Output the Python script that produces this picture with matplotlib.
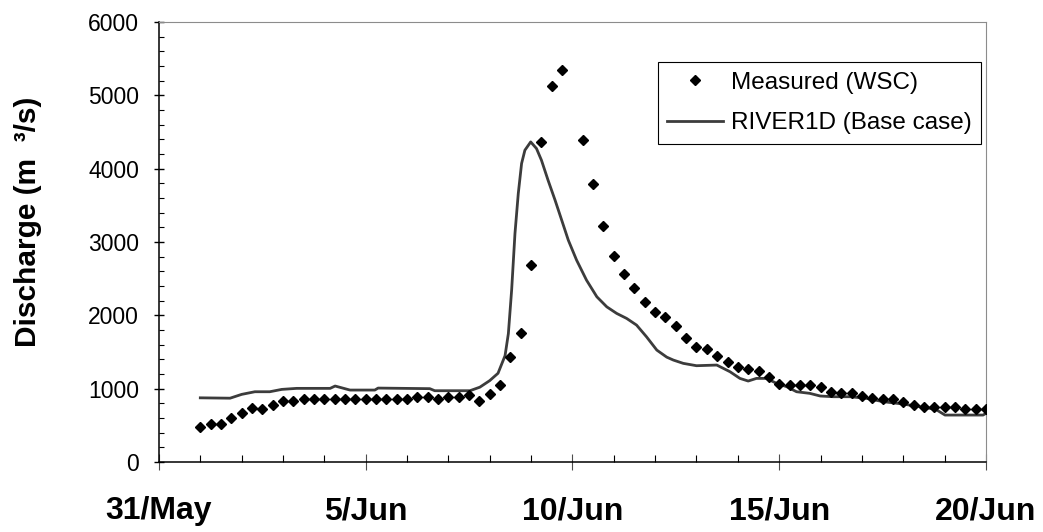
import numpy as np
import matplotlib
matplotlib.use("Agg")
import matplotlib.pyplot as plt
from matplotlib.ticker import MultipleLocator

plt.rcParams['font.family'] = ['Liberation Sans', 'DejaVu Sans']

# days counted from 31 May; gauge readings every 6 hours from 1 Jun to 20 Jun
meas_day = np.arange(1.0, 20.01, 0.25)
meas_q = [480, 515, 515, 595, 665, 730, 720, 775, 835, 835,
          865, 865, 865, 865, 865, 865, 865, 865, 865, 865,
          865, 890, 890, 865, 890, 890, 910, 825, 930, 1045,
          1425, 1755, 2680, 4365, 5130, 5340, np.nan, 4390, 3790, 3220,
          2810, 2570, 2375, 2185, 2050, 1975, 1860, 1695, 1565, 1540,
          1450, 1365, 1290, 1265, 1240, 1160, 1070, 1050, 1050, 1050,
          1025, 960, 935, 935, 905, 875, 855, 855, 820, 775,
          745, 745, 745, 745, 720, 720, 720]

# RIVER1D simulated hydrograph
model_day = [1.0, 1.72, 2.0, 2.32, 2.68, 2.97, 3.33, 4.14, 4.26, 4.62,
             5.22, 5.30, 6.55, 6.67, 7.52, 7.76, 8.0, 8.2, 8.37, 8.45,
             8.53, 8.61, 8.69, 8.77, 8.85, 8.99, 9.13, 9.25, 9.41, 9.58,
             9.74, 9.90, 10.10, 10.34, 10.59, 10.83, 11.07, 11.31, 11.55, 11.79,
             12.04, 12.28, 12.44, 12.68, 13.00, 13.49, 13.81, 14.05, 14.25, 14.45,
             14.69, 14.94, 15.18, 15.42, 15.74, 15.99, 16.31, 16.71, 17.11, 17.52,
             18.00, 18.65, 18.81, 19.01, 19.93, 20.0]
model_q = [875, 870, 922, 958, 958, 990, 1004, 1004, 1036, 981,
           981, 1008, 1000, 972, 972, 1020, 1110, 1210, 1450, 1750,
           2350, 3117, 3662, 4071, 4252, 4365, 4275, 4116, 3843, 3570,
           3298, 3025, 2753, 2480, 2253, 2116, 2026, 1958, 1867, 1708,
           1526, 1430, 1390, 1345, 1313, 1322, 1231, 1140, 1104, 1140,
           1140, 1072, 1027, 958, 936, 900, 890, 890, 868, 822,
           790, 731, 709, 640, 640, 663]

tick_days = [0, 5, 10, 15, 20]
tick_labels = ['31/May', '5/Jun', '10/Jun', '15/Jun', '20/Jun']

fig = plt.figure(figsize=(10.43, 5.32), dpi=100)
ax = fig.add_axes([0.1524, 0.1316, 0.7929, 0.8270])

line, = ax.plot(model_day, model_q, color='#3c3c3c', lw=2.0, zorder=2,
                label='RIVER1D (Base case)')
pts, = ax.plot(meas_day, meas_q, ls='none', marker='D', ms=5.5,
               color='black', zorder=3, label='Measured (WSC)')

ax.set_xlim(0, 20)
ax.set_ylim(0, 6000)
ax.set_xticks(tick_days)
ax.set_xticklabels(tick_labels, fontsize=23, fontweight='bold')
ax.xaxis.set_minor_locator(MultipleLocator(1))
ax.yaxis.set_major_locator(MultipleLocator(1000))
ax.yaxis.set_minor_locator(MultipleLocator(200))
ax.tick_params(axis='y', which='major', direction='inout', length=6.5,
               width=1, labelsize=16.5, pad=11)
ax.tick_params(axis='y', which='minor', direction='in', length=3.6, width=0.8)
ax.tick_params(axis='x', which='major', direction='inout', length=11,
               width=0.8, pad=19, colors='0.3', labelcolor='black')
ax.tick_params(axis='x', which='minor', direction='in', length=5, width=0.8)

ax.set_ylabel('Discharge (m  ³/s)', fontsize=21.5, fontweight='bold')
ax.yaxis.set_label_coords(-0.142, 0.547)

for side in ['left', 'bottom']:
    ax.spines[side].set_linewidth(1.1)
    ax.spines[side].set_color('black')
for side in ['top', 'right']:
    ax.spines[side].set_linewidth(0.8)
    ax.spines[side].set_color('0.55')
    ax.spines[side].set_linestyle((0, (2, 1)))

leg = ax.legend(handles=[pts, line], loc='upper right',
                bbox_to_anchor=(0.994, 0.909), borderaxespad=0,
                fontsize=17.5, numpoints=1, handlelength=2.3,
                handletextpad=0.3, borderpad=0.4, labelspacing=0.75,
                fancybox=False, framealpha=1)
leg.get_frame().set_edgecolor('black')
leg.get_frame().set_linewidth(0.8)

fig.savefig('out.png', dpi=100)
